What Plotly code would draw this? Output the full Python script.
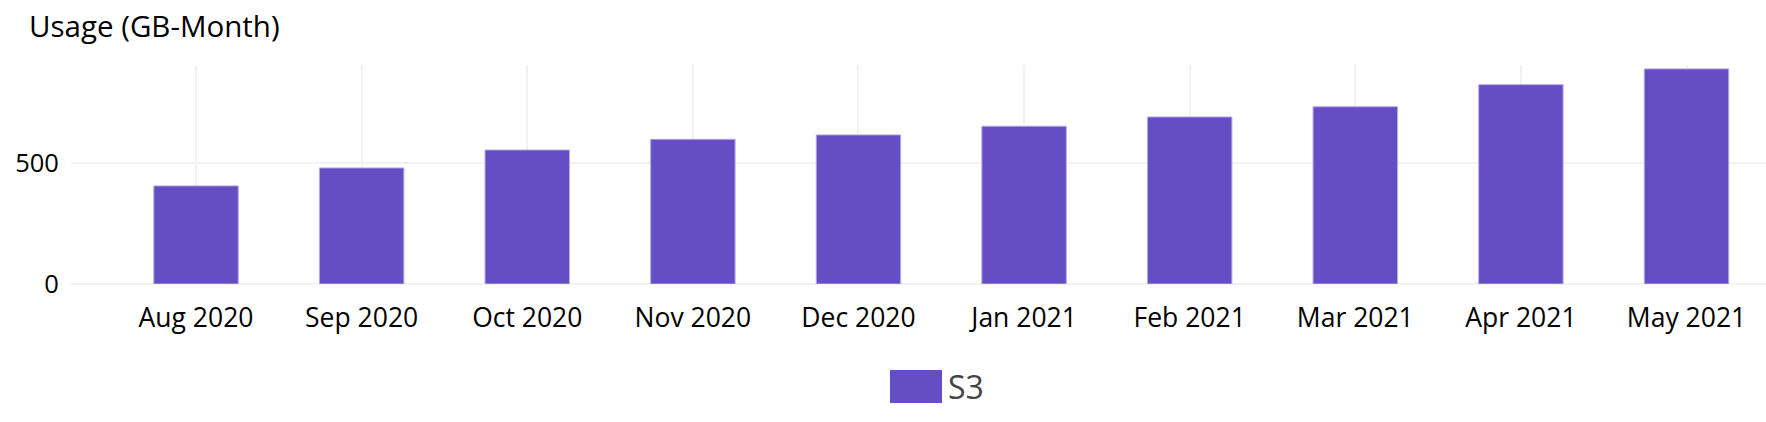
import plotly.graph_objects as go

months = ["Aug 2020", "Sep 2020", "Oct 2020", "Nov 2020", "Dec 2020",
          "Jan 2021", "Feb 2021", "Mar 2021", "Apr 2021", "May 2021"]
usage_s3 = [404, 478, 552, 596, 614, 650, 688, 730, 821, 886]
series_name = "S3"
y_ticks = [0, 500]

BAR = "#654ec4"
FONT = "Open Sans, Noto Sans, sans-serif"

W, H = 1766, 422
L, R, T, B = 71, 0, 65, 138
pw, ph = W - L - R, H - T - B

def px_x(px):
    return (px - L) / pw

def px_y(py):
    return (H - B - py) / ph

fig = go.Figure()
fig.add_trace(go.Bar(
    x=list(range(len(months))), y=usage_s3, name=series_name,
    marker=dict(color=BAR, line=dict(color="#b6aae8", width=1)),
    width=0.51, showlegend=False,
))

fig.update_layout(
    width=W, height=H,
    margin=dict(l=L, r=R, t=T, b=B),
    plot_bgcolor="white", paper_bgcolor="white",
    font=dict(family=FONT, size=25, color="#000000"),
    bargap=0.49,
)
fig.update_xaxes(
    tickmode="array", tickvals=list(range(len(months))), ticktext=months,
    range=[-0.755, 9.48], showgrid=True, gridcolor="#f2f2f2", gridwidth=2,
    ticks="outside", ticklen=10, tickcolor="rgba(0,0,0,0)",
    tickfont=dict(size=26.5, color="#000000"), showline=False, zeroline=False,
)
fig.update_yaxes(
    tickmode="array", tickvals=y_ticks, ticktext=[str(v) for v in y_ticks],
    range=[0, 902], showgrid=True, gridcolor="#f2f2f2", gridwidth=2,
    zeroline=True, zerolinecolor="#f2f2f2", zerolinewidth=2,
    ticks="outside", ticklen=6, tickcolor="rgba(0,0,0,0)",
    tickfont=dict(size=25.5, color="#000000"), showline=False,
)

# chart title
fig.add_annotation(
    text="Usage (GB-Month)", xref="paper", yref="paper",
    x=px_x(27), y=px_y(25), xanchor="left", yanchor="middle",
    showarrow=False, font=dict(size=29.5, color="#000000", family=FONT),
)
# legend (swatch + label)
fig.add_shape(
    type="rect", xref="paper", yref="paper",
    x0=px_x(890), x1=px_x(942), y0=px_y(370), y1=px_y(403),
    fillcolor=BAR, line=dict(width=0),
)
fig.add_annotation(
    text=series_name, xref="paper", yref="paper",
    x=px_x(946), y=px_y(386), xanchor="left", yanchor="middle",
    showarrow=False, font=dict(size=32, color="#444444", family=FONT),
)

fig.write_html("out.html")
